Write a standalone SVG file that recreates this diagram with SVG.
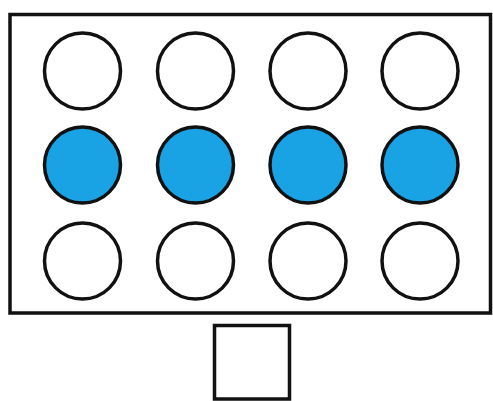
<svg xmlns="http://www.w3.org/2000/svg" width="493" height="401" viewBox="0 0 493 401">
<style>
.frame{fill:#fff;stroke:#111;stroke-width:3.5}
.c{fill:#fff;stroke:#111;stroke-width:3.5}
.b{fill:#19a3e4;stroke:#111;stroke-width:3.5}
</style>
<rect width="493" height="401" fill="#fff"/>
<g id="board"><rect class="frame" x="10" y="14.5" width="480.5" height="298.5"/></g>
<g id="r1c1"><circle class="c" cx="82.5" cy="71" r="38"/></g>
<g id="r1c2"><circle class="c" cx="195.5" cy="71" r="38"/></g>
<g id="r1c3"><circle class="c" cx="308" cy="71" r="38"/></g>
<g id="r1c4"><circle class="c" cx="420" cy="71" r="38"/></g>
<g id="r2c1"><circle class="b" cx="82.5" cy="165" r="38"/></g>
<g id="r2c2"><circle class="b" cx="195.5" cy="165" r="38"/></g>
<g id="r2c3"><circle class="b" cx="308" cy="165" r="38"/></g>
<g id="r2c4"><circle class="b" cx="420" cy="165" r="38"/></g>
<g id="r3c1"><circle class="c" cx="82.5" cy="261" r="38"/></g>
<g id="r3c2"><circle class="c" cx="195.5" cy="261" r="38"/></g>
<g id="r3c3"><circle class="c" cx="308" cy="261" r="38"/></g>
<g id="r3c4"><circle class="c" cx="420" cy="261" r="38"/></g>
<g id="square"><rect class="frame" x="214.5" y="325.5" width="75" height="73.5" stroke-width="4.5"/></g>
<g id="connectors"></g>
</svg>
